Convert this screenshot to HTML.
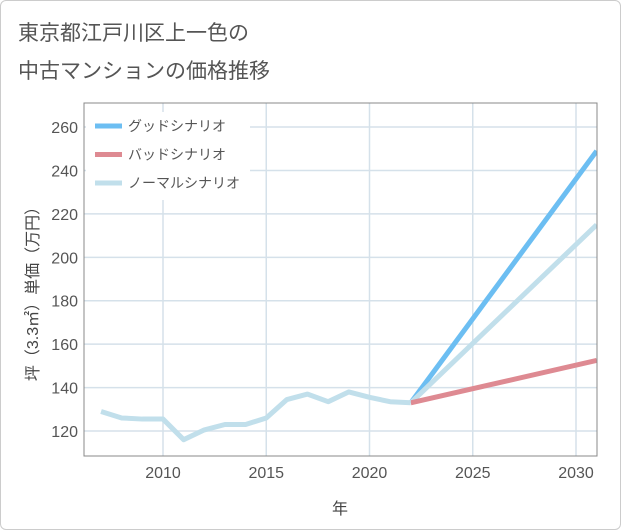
<!DOCTYPE html>
<html><head><meta charset="utf-8"><style>
body{margin:0;background:#fff;font-family:"Liberation Sans","Noto Sans CJK JP",sans-serif}
#wrap{position:relative;width:619px;height:528px;border:1px solid #ccc;border-radius:6px;overflow:hidden}
</style></head><body>
<div id="wrap">
<svg id="c" width="621" height="530" style="position:absolute;left:-1px;top:-1px">
<text x="18" y="40" font-size="21" fill="#555" font-family="Liberation Sans, Noto Sans CJK JP, sans-serif">東京都江戸川区上一色の</text>
<text x="18" y="78" font-size="21" fill="#555" font-family="Liberation Sans, Noto Sans CJK JP, sans-serif">中古マンションの価格推移</text>
<g id="grid"></g><g id="series"></g><g id="axes"></g>
<text x="340" y="514" font-size="16" fill="#444" text-anchor="middle" font-family="Liberation Sans, Noto Sans CJK JP, sans-serif">年</text>
<text transform="translate(38,290) rotate(-90)" font-size="16" fill="#444" text-anchor="middle" font-family="Liberation Sans, Noto Sans CJK JP, sans-serif">坪（3.3㎡）単価（万円）</text>
<g id="legend"></g>
</svg></div>
<script>
const years=[2007,2008,2009,2010,2011,2012,2013,2014,2015,2016,2017,2018,2019,2020,2021,2022];
const normalHist=[129,126,125.5,125.5,116,120.5,123,123,126,134.5,137,133.5,138,135.5,133.5,133];
const projYears=[2022,2031];
const goodProj=[133,249];
const badProj=[133,152.5];
const normalProj=[133,215];
const xTicks=[2010,2015,2020,2025,2030];
const yTicks=[120,140,160,180,200,220,240,260];
const L=84,R=597,T=103,B=456;
const x=v=>163+(v-2010)*20.65;
const y=v=>431-(v-120)*2.171;
const ns="http://www.w3.org/2000/svg";
function mk(t,a,p){const e=document.createElementNS(ns,t);for(const k in a)e.setAttribute(k,a[k]);p.appendChild(e);return e;}
const g=document.getElementById('grid'),s=document.getElementById('series'),ax=document.getElementById('axes'),lg=document.getElementById('legend');
for(const t of xTicks){const l=mk('line',{x1:x(t),x2:x(t),y1:T,y2:B,stroke:'#d5e1ea','stroke-width':1.5},g);


const tx=mk('text',{x:x(t),y:478,'font-size':16,fill:'#555','text-anchor':'middle'},ax);tx.textContent=t;

}
for(const t of yTicks){const l=mk('line',{x1:L,x2:R,y1:y(t),y2:y(t),stroke:'#d5e1ea','stroke-width':1.5},g);


const tx=mk('text',{x:78,y:y(t)+6,'font-size':16,fill:'#555','text-anchor':'end'},ax);tx.textContent=t;

}
const fr=mk('rect',{x:L,y:T,width:R-L,height:B-T,fill:'none',stroke:'#888','stroke-width':1},ax);


function line(xs,ys,col,name){const p=mk('polyline',{points:xs.map((v,i)=>x(v)+','+y(ys[i])).join(' '),fill:'none',stroke:col,'stroke-width':5,'stroke-linejoin':'round'},s);

}
const cp=mk('clipPath',{id:'cp'},s);mk('rect',{x:L,y:T,width:R-L,height:B-T},cp);s.setAttribute('clip-path','url(#cp)');
line(projYears,goodProj,'#6cbef2','good-scenario-line');
line(projYears,normalProj,'#c1dfeb','normal-scenario-line');
line(projYears,badProj,'#de8a92','bad-scenario-line');
line(years,normalHist,'#c1dfeb','historical-price-line');
const lb=mk('rect',{x:86,y:112,width:164,height:88,fill:'#fff'},lg);


[['グッドシナリオ','#6cbef2'],['バッドシナリオ','#de8a92'],['ノーマルシナリオ','#c1dfeb']].forEach((d,i)=>{
const yy=126+i*28.5;
const ln=mk('line',{x1:95,x2:122,y1:yy,y2:yy,stroke:d[1],'stroke-width':5},lg);


const t=mk('text',{x:128,y:yy+5,'font-size':14,fill:'#555'},lg);t.textContent=d[0];

});
</script>
</body></html>
